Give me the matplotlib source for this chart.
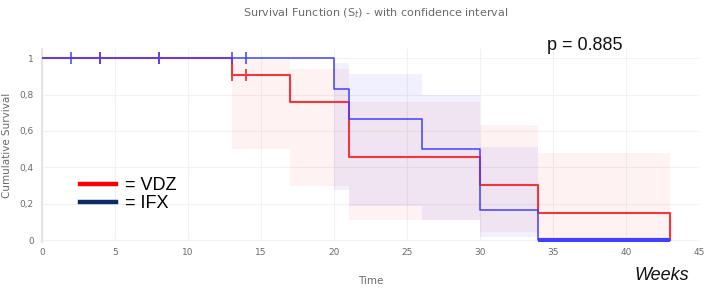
import numpy as np
import matplotlib
matplotlib.use("Agg")
import matplotlib.pyplot as plt
from matplotlib.lines import Line2D

# Kaplan-Meier steps (time in weeks, survival)
vdz_time = [0, 13, 17, 21, 30, 34, 43]
vdz_surv = [1.0, 0.909, 0.758, 0.455, 0.303, 0.152, 0.0]
ifx_time = [0, 20, 21, 26, 30, 34, 43]
ifx_surv = [1.0, 0.833, 0.667, 0.50, 0.167, 0.0, 0.0]

# censored observations
vdz_cens_time = [4, 8, 13, 14]
vdz_cens_surv = [1.0, 1.0, 0.909, 0.909]
ifx_cens_time = [2, 4, 8, 13, 14]
ifx_cens_surv = [1.0, 1.0, 1.0, 1.0, 1.0]

# confidence bands (step edges, upper, lower)
vdz_ci_edges = [13, 17, 21, 30, 34, 43]
vdz_ci_upper = [0.99, 0.94, 0.76, 0.63, 0.48]
vdz_ci_lower = [0.50, 0.30, 0.11, 0.045, 0.0]
ifx_ci_edges = [20, 21, 26, 30, 34]
ifx_ci_upper = [0.975, 0.91, 0.80, 0.51]
ifx_ci_lower = [0.275, 0.19, 0.11, 0.02]

x_ticks = [0, 5, 10, 15, 20, 25, 30, 35, 40, 45]
y_ticks = [0, 0.2, 0.4, 0.6, 0.8, 1.0]
y_tick_labels = ['0', '0,2', '0,4', '0,6', '0,8', '1']

RED = '#f2373c'
BLUE = '#4040ff'
NAVY = '#0f2a6b'
GREY = '#6b6b6b'

fig = plt.figure(figsize=(7.08, 2.88), dpi=100)
ax = fig.add_axes([42 / 708, 46 / 288, 657 / 708, 193 / 288])


def band(edges, upper, lower, color, alpha):
    x = np.array(edges, dtype=float)
    up = np.append(upper, upper[-1])
    lo = np.append(lower, lower[-1])
    ax.fill_between(x, lo, up, step='post', color=color, alpha=alpha, lw=0)


band(vdz_ci_edges, vdz_ci_upper, vdz_ci_lower, 'red', 0.05)
band(ifx_ci_edges, ifx_ci_upper, ifx_ci_lower, 'blue', 0.06)

ax.step(vdz_time, vdz_surv, where='post', color=RED, lw=1.5, zorder=3)
ax.plot(vdz_cens_time, vdz_cens_surv, ls='none', marker='|', ms=9, mew=1.3,
        color=RED, zorder=3)
ax.step(ifx_time, ifx_surv, where='post', color=BLUE, lw=1.1, zorder=4)
ax.plot(ifx_time[-2:], ifx_surv[-2:], color=BLUE, lw=3, zorder=4,
        solid_capstyle='butt')
ax.plot(ifx_cens_time, ifx_cens_surv, ls='none', marker='|', ms=9, mew=1.1,
        color=BLUE, zorder=4)

ax.set_xlim(0, 45)
ax.set_ylim(-0.01, 1.05)
ax.set_xticks(x_ticks)
ax.set_yticks(y_ticks)
ax.set_yticklabels(y_tick_labels)
ax.tick_params(length=0, labelsize=6.5, labelcolor=GREY)
ax.tick_params(axis='y', pad=6)
ax.tick_params(axis='x', pad=4)
ax.grid(True, color='#f2f2f2', lw=0.8)
ax.set_axisbelow(True)
for s in ['top', 'right', 'bottom']:
    ax.spines[s].set_visible(False)
ax.spines['left'].set_color('#e4e4e4')
ax.spines['left'].set_linewidth(1.5)

ax.set_xlabel('Time', fontsize=7.5, color=GREY, labelpad=14)
ax.set_ylabel('Cumulative Survival', fontsize=7.5, color=GREY, labelpad=5)

fig.text(0.53, 0.955, 'Survival Function (S$_t$) - with confidence interval',
         ha='center', va='center', fontsize=8, color=GREY)

fig.text(547 / 708, 1 - 45 / 288, 'p = 0.885', family='Liberation Sans',
         fontsize=13, ha='left', va='center', color='#111111')
fig.text(634 / 708, 1 - 276 / 288, 'Weeks', family='Liberation Sans',
         style='italic', fontsize=13, ha='left', va='center', color='#111111')

handles = [Line2D([], [], color='red', lw=3.2), Line2D([], [], color=NAVY, lw=3.2)]
ax.legend(handles, ['= VDZ', '= IFX'], loc='upper left',
          bbox_to_anchor=(80 / 708, 1 - 177 / 288), bbox_transform=fig.transFigure,
          frameon=False, prop={'family': 'Liberation Sans', 'size': 13},
          handlelength=2.0, handletextpad=0.5, labelspacing=0.05,
          borderpad=0, borderaxespad=0)

fig.savefig('out.png', dpi=100)
